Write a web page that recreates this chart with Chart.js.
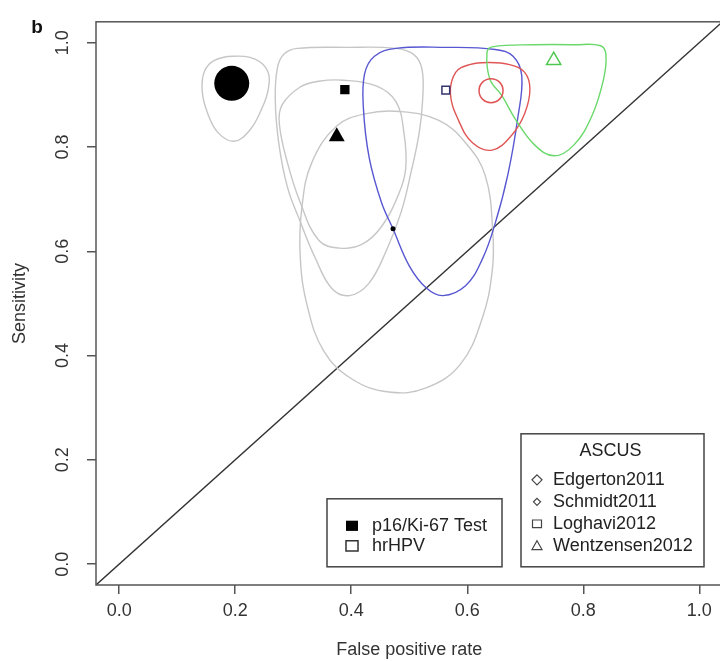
<!DOCTYPE html>
<html>
<head>
<meta charset="utf-8">
<title>SROC - ASCUS</title>
<script src="https://cdn.jsdelivr.net/npm/chart.js@4/dist/chart.umd.min.js"></script>
<style>
  html, body { margin: 0; padding: 0; overflow: hidden; background: #fff; }
  #wrap { width: 740px; height: 661px; }
</style>
</head>
<body>
<div id="wrap"><canvas id="rocChart"></canvas></div>
<script>
// ---- data ----
const studies = ['Edgerton2011', 'Schmidt2011', 'Loghavi2012', 'Wentzensen2012'];
const testTypes = ['p16/Ki-67 Test', 'hrHPV'];

// summary points (false positive rate, sensitivity)
const p16Fpr  = [0.194, 0.472, 0.389, 0.375];
const p16Sens = [0.922, 0.643, 0.910, 0.820];
const hpvFpr  = [0.641, null, 0.563, 0.749];
const hpvSens = [0.908, null, 0.909, 0.966];

// confidence region outlines
const edgertonP16Fpr  = [0.196, 0.235, 0.256, 0.257, 0.246, 0.225, 0.198, 0.170, 0.152, 0.143, 0.147, 0.164];
const edgertonP16Sens = [0.974, 0.968, 0.945, 0.911, 0.874, 0.832, 0.811, 0.828, 0.866, 0.908, 0.945, 0.966];

const loghaviP16Fpr  = [0.307, 0.392, 0.477, 0.508, 0.522, 0.523, 0.517, 0.503, 0.486, 0.460, 0.430, 0.397, 0.367, 0.338, 0.312, 0.290, 0.275, 0.269, 0.273, 0.285];
const loghaviP16Sens = [0.989, 0.991, 0.989, 0.977, 0.949, 0.889, 0.826, 0.751, 0.675, 0.600, 0.538, 0.515, 0.528, 0.587, 0.657, 0.723, 0.808, 0.892, 0.953, 0.979];

const wentzensenP16Fpr  = [0.387, 0.443, 0.477, 0.491, 0.494, 0.483, 0.452, 0.418, 0.380, 0.344, 0.312, 0.290, 0.276, 0.281, 0.312, 0.344];
const wentzensenP16Sens = [0.928, 0.917, 0.887, 0.826, 0.760, 0.713, 0.647, 0.613, 0.606, 0.621, 0.694, 0.770, 0.845, 0.881, 0.915, 0.926];

const schmidtP16Fpr  = [0.483, 0.551, 0.597, 0.631, 0.644, 0.643, 0.626, 0.588, 0.529, 0.465, 0.401, 0.353, 0.324, 0.312, 0.315, 0.332, 0.375, 0.426];
const schmidtP16Sens = [0.868, 0.851, 0.808, 0.745, 0.638, 0.562, 0.472, 0.383, 0.338, 0.330, 0.355, 0.408, 0.496, 0.591, 0.685, 0.770, 0.840, 0.864];

const edgertonHpvFpr  = [0.636, 0.673, 0.699, 0.708, 0.699, 0.677, 0.643, 0.609, 0.585, 0.571, 0.580, 0.604];
const edgertonHpvSens = [0.962, 0.958, 0.943, 0.911, 0.864, 0.823, 0.794, 0.808, 0.851, 0.902, 0.943, 0.958];

const loghaviHpvFpr  = [0.558, 0.597, 0.626, 0.648, 0.670, 0.687, 0.694, 0.679, 0.648, 0.563, 0.477, 0.440, 0.423, 0.421, 0.431, 0.452, 0.472, 0.500, 0.529];
const loghaviHpvSens = [0.515, 0.534, 0.585, 0.653, 0.747, 0.855, 0.936, 0.974, 0.987, 0.991, 0.989, 0.974, 0.940, 0.874, 0.779, 0.694, 0.643, 0.572, 0.530];

const wentzensenHpvFpr  = [0.643, 0.716, 0.784, 0.830, 0.839, 0.835, 0.815, 0.784, 0.750, 0.716, 0.682, 0.660, 0.639, 0.634];
const wentzensenHpvSens = [0.992, 0.996, 0.996, 0.994, 0.977, 0.930, 0.860, 0.804, 0.783, 0.804, 0.855, 0.898, 0.930, 0.981];

// chance line
const diagFpr  = [-0.04, 1.04];
const diagSens = [-0.04, 1.04];

const xTicks = [0, 0.2, 0.4, 0.6, 0.8, 1.0];
const yTicks = [0, 0.2, 0.4, 0.6, 0.8, 1.0];
const axisMin = -0.04;
const axisMax = 1.04;

// ---- styling ----
const FONT = '"Liberation Sans", Arial, Helvetica, sans-serif';
Chart.defaults.font.family = FONT;
Chart.defaults.font.size = 18;
Chart.defaults.color = '#333';

const GRAY = '#c6c6c6';
const RED = '#e05656';
const BLUE = '#5757d2';
const GREEN = '#6ad86a';

// marker look per study (p16 filled, hrHPV open)
const markerStyle = ['circle', 'circle', 'rect', 'triangle'];
const p16Radius = [17.5, 2.5, 6.6, 9.2];
const hpvRadius = [12, 0, 5.5, 8.2];
const hpvColor = [RED, '#000', '#33336e', '#4fc84f'];

function toPoints(xs, ys) {
    return xs.map((x, i) => ({ x: x, y: ys[i] }));
}

function region(xs, ys, color) {
    return {
        data: toPoints(xs, ys),
        showLine: true,
        closed: true,
        borderColor: color,
        borderWidth: 1.4,
        pointRadius: 0,
        tension: 0.4,
        fill: false
    };
}

const datasets = [];

// summary points on top
studies.forEach((s, i) => {
    if (hpvFpr[i] !== null) {
        datasets.push({
            data: [{ x: hpvFpr[i], y: hpvSens[i] }],
            pointStyle: markerStyle[i],
            pointRadius: hpvRadius[i],
            pointBorderWidth: 1.5,
            pointBorderColor: hpvColor[i],
            pointBackgroundColor: 'rgba(0,0,0,0)'
        });
    }
    datasets.push({
        data: [{ x: p16Fpr[i], y: p16Sens[i] }],
        pointStyle: markerStyle[i],
        pointRadius: p16Radius[i],
        pointBorderWidth: 0,
        pointBackgroundColor: '#000'
    });
});

datasets.push(region(wentzensenHpvFpr, wentzensenHpvSens, GREEN));
datasets.push(region(edgertonHpvFpr, edgertonHpvSens, RED));
datasets.push(region(loghaviHpvFpr, loghaviHpvSens, BLUE));
datasets.push(region(edgertonP16Fpr, edgertonP16Sens, GRAY));
datasets.push(region(loghaviP16Fpr, loghaviP16Sens, GRAY));
datasets.push(region(wentzensenP16Fpr, wentzensenP16Sens, GRAY));
datasets.push(region(schmidtP16Fpr, schmidtP16Sens, GRAY));
datasets.push({
    data: toPoints(diagFpr, diagSens),
    showLine: true,
    borderColor: '#333',
    borderWidth: 1.4,
    pointRadius: 0
});

// turn the region outlines into closed smooth loops (like radar lines)
const closeLoops = {
    id: 'closeLoops',
    afterDatasetUpdate(chart, args) {
        const ds = chart.data.datasets[args.index];
        const line = args.meta.dataset;
        if (ds.closed && line) {
            line._loop = true;
            line._fullLoop = true;
            line._segments = undefined;
            line._path = undefined;
            line._pointsUpdated = false;
        }
    }
};

// plot box and panel letter
const frame = {
    id: 'frame',
    afterDraw(chart) {
        const { ctx, chartArea: a } = chart;
        ctx.save();
        ctx.strokeStyle = '#555';
        ctx.lineWidth = 1.5;
        ctx.strokeRect(a.left, a.top, a.right - a.left, a.bottom - a.top);
        ctx.fillStyle = '#111';
        ctx.font = 'bold 19px ' + FONT;
        ctx.textAlign = 'center';
        ctx.textBaseline = 'middle';
        ctx.fillText('b', 37, 28);
        ctx.restore();
    }
};

function drawMarker(ctx, shape, x, y, s, filled) {
    ctx.beginPath();
    if (shape === 'rect') {
        ctx.rect(x - s, y - s * 0.85, 2 * s, 1.7 * s);
    } else if (shape === 'diamond') {
        ctx.moveTo(x, y - s);
        ctx.lineTo(x + s, y);
        ctx.lineTo(x, y + s);
        ctx.lineTo(x - s, y);
        ctx.closePath();
    } else if (shape === 'triangle') {
        ctx.moveTo(x, y - s);
        ctx.lineTo(x + s, y + s * 0.75);
        ctx.lineTo(x - s, y + s * 0.75);
        ctx.closePath();
    }
    if (filled) ctx.fill(); else ctx.stroke();
}

// the two R-style legends
const legends = {
    id: 'legends',
    afterDraw(chart) {
        const { ctx, chartArea: a } = chart;
        ctx.save();
        ctx.font = '18px ' + FONT;
        ctx.textBaseline = 'middle';
        ctx.lineWidth = 1.5;

        // test type legend
        const b1 = { x: a.left + 231, y: a.top + 477, w: 175, h: 68 };
        ctx.strokeStyle = '#444';
        ctx.strokeRect(b1.x, b1.y, b1.w, b1.h);
        ctx.fillStyle = '#000';
        drawMarker(ctx, 'rect', b1.x + 25, b1.y + 27, 6, true);
        ctx.strokeStyle = '#333';
        drawMarker(ctx, 'rect', b1.x + 25, b1.y + 47, 6, false);
        ctx.fillStyle = '#222';
        ctx.textAlign = 'left';
        testTypes.forEach((t, i) => ctx.fillText(t, b1.x + 45, b1.y + 27 + i * 20));

        // study legend
        const b2 = { x: a.left + 425, y: a.top + 412, w: 183, h: 133 };
        ctx.strokeStyle = '#444';
        ctx.strokeRect(b2.x, b2.y, b2.w, b2.h);
        ctx.textAlign = 'center';
        ctx.fillText('ASCUS', b2.x + b2.w / 2 - 2, b2.y + 17);
        const legShapes = ['diamond', 'diamond', 'rect', 'triangle'];
        const legSizes = [5, 3.5, 4.5, 5];
        ctx.lineWidth = 1.2;
        ctx.strokeStyle = '#444';
        studies.forEach((s, i) => {
            const yy = b2.y + 46 + i * 22;
            drawMarker(ctx, legShapes[i], b2.x + 16, yy, legSizes[i], false);
            ctx.textAlign = 'left';
            ctx.fillText(s, b2.x + 32, yy);
        });
        ctx.restore();
    }
};

new Chart(document.getElementById('rocChart'), {
    type: 'scatter',
    data: { datasets: datasets },
    options: {
        responsive: true,
        maintainAspectRatio: false,
        animation: false,
        events: [],
        layout: { padding: { top: 11, right: 10, left: 0, bottom: 0 } },
        plugins: {
            legend: { display: false },
            tooltip: { enabled: false }
        },
        scales: {
            x: {
                type: 'linear',
                min: axisMin,
                max: axisMax,
                afterBuildTicks: s => { s.ticks = xTicks.map(v => ({ value: v })); },
                afterFit: s => { s.height = 76; },
                border: { display: false },
                grid: { drawOnChartArea: false, drawTicks: true, tickLength: 9, color: '#555', lineWidth: 1.5 },
                ticks: { callback: v => v.toFixed(1), padding: 6, maxRotation: 0, autoSkip: false, color: '#333' },
                title: { display: true, text: 'False positive rate', color: '#333', padding: { top: 0, bottom: 0 } }
            },
            y: {
                type: 'linear',
                min: axisMin,
                max: axisMax,
                afterBuildTicks: s => { s.ticks = yTicks.map(v => ({ value: v })); },
                afterFit: s => { s.width = 96; },
                border: { display: false },
                grid: { drawOnChartArea: false, drawTicks: true, tickLength: 9, color: '#555', lineWidth: 1.5 },
                ticks: { callback: v => v.toFixed(1), padding: 11, minRotation: 90, maxRotation: 90, crossAlign: 'center', autoSkip: false, color: '#333' },
                title: { display: true, text: 'Sensitivity', color: '#333', padding: { top: 9, bottom: 0 } }
            }
        }
    },
    plugins: [closeLoops, frame, legends]
});
</script>
</body>
</html>
